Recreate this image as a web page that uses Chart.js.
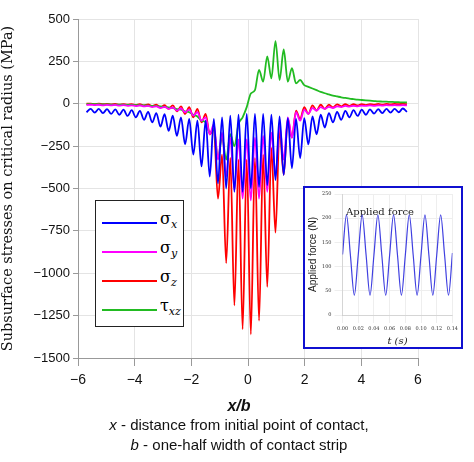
<!DOCTYPE html>
<html><head><meta charset="utf-8">
<script src="https://cdn.jsdelivr.net/npm/chart.js@4.4.0/dist/chart.umd.min.js"></script>
<style>
body{margin:0;background:#fff;width:474px;height:462px;overflow:hidden;position:relative;font-family:"Liberation Sans",Arial,sans-serif}
#main{position:absolute;left:0;top:0}
#legend{position:absolute;left:95px;top:200px;width:87px;height:125px;border:1.5px solid #222;background:#fff}
.li{position:absolute;left:6px;width:55px;height:0;border-top:2.5px solid}
.lt{position:absolute;left:64px;font-family:"DejaVu Serif",serif;font-size:16px}
.lt sub{font-size:11px;font-style:italic}
#inset{position:absolute;left:303px;top:186px;width:156px;height:159px;border:2px solid #1010d0;background:#fff}
.xt{position:absolute;width:474px;text-align:center;font-size:15px;color:#111}
</style></head><body>
<canvas id="main" width="474" height="462"></canvas>
<div id="legend">
 <div class="li" style="top:21px;border-color:#0000ff"></div><div class="lt" style="top:8px">σ<sub>x</sub></div>
 <div class="li" style="top:50px;border-color:#ff00ff"></div><div class="lt" style="top:37px">σ<sub>y</sub></div>
 <div class="li" style="top:79px;border-color:#ff0000"></div><div class="lt" style="top:66px">σ<sub>z</sub></div>
 <div class="li" style="top:108px;border-color:#22bb22"></div><div class="lt" style="top:95px">τ<sub>xz</sub></div>
</div>
<div id="inset"><canvas id="ins" width="156" height="159"></canvas></div>
<div class="xt" style="top:397px;left:2px;font-weight:bold;font-style:italic;font-size:16px">x/b</div>
<div class="xt" style="top:416px;left:2px"><i>x</i> - distance from initial point of contact,</div>
<div class="xt" style="top:436px;left:2px"><i>b</i> - one-half width of contact strip</div>
<script>
const xPos = [-5.70,-5.555,-5.41,-5.265,-5.12,-4.975,-4.83,-4.685,-4.54,-4.395,-4.25,-4.105,-3.96,-3.815,-3.67,-3.525,-3.38,-3.235,-3.09,-2.945,-2.80,-2.655,-2.51,-2.365,-2.22,-2.075,-1.93,-1.785,-1.64,-1.495,-1.35,-1.205,-1.06,-0.915,-0.77,-0.625,-0.48,-0.335,-0.19,-0.045,0.10,0.245,0.39,0.535,0.68,0.825,0.97,1.115,1.26,1.405,1.55,1.695,1.84,1.985,2.13,2.275,2.42,2.565,2.71,2.855,3.00,3.145,3.29,3.435,3.58,3.725,3.87,4.015,4.16,4.305,4.45,4.595,4.74,4.885,5.03,5.175,5.32,5.465,5.61];
const sigmaX = [-50,-30,-52,-30,-55,-32,-60,-33,-65,-35,-72,-38,-80,-42,-95,-48,-110,-55,-135,-62,-160,-70,-190,-80,-240,-90,-300,-100,-370,-100,-430,-90,-470,-80,-500,-70,-520,-65,-520,-60,-500,-60,-490,-60,-480,-65,-450,-75,-420,-85,-380,-90,-320,-85,-240,-75,-180,-65,-140,-55,-110,-48,-95,-42,-80,-38,-72,-35,-65,-33,-58,-32,-55,-30,-52,-30,-50,-28,-48];
const sigmaY = [-8,-6,-8,-6,-9,-7,-10,-7,-11,-8,-12,-9,-14,-10,-16,-12,-20,-15,-25,-18,-30,-22,-40,-28,-50,-35,-70,-50,-100,-80,-180,-120,-330,-170,-430,-200,-510,-210,-560,-210,-570,-200,-560,-190,-520,-170,-430,-130,-330,-80,-200,-50,-100,-35,-60,-25,-40,-20,-30,-18,-25,-15,-20,-13,-17,-12,-15,-11,-13,-10,-12,-9,-11,-8,-10,-8,-10,-8,-10];
const sigmaZ = [0,0,-2,0,-3,-1,-4,-1,-5,-2,-6,-2,-8,-3,-10,-4,-14,-5,-20,-8,-30,-10,-45,-15,-60,-20,-80,-30,-110,-60,-180,-150,-560,-300,-940,-320,-1190,-330,-1330,-330,-1360,-320,-1280,-300,-1080,-260,-760,-150,-420,-90,-200,-40,-90,-20,-60,-10,-40,-6,-30,-5,-22,-4,-15,-3,-12,-3,-10,-2,-8,-2,-6,-1,-5,-1,-4,-1,-3,0,-3];
const tauXZ = [-2,-2,-3,-3,-4,-4,-5,-5,-6,-6,-7,-7,-8,-9,-10,-11,-13,-14,-16,-18,-22,-25,-32,-35,-45,-50,-65,-75,-100,-110,-170,-150,-320,-200,-330,-180,-250,-120,-80,-20,60,80,200,130,280,150,370,140,320,130,210,120,140,110,100,90,80,70,62,55,48,43,38,34,30,27,24,22,20,18,16,14,13,12,11,10,9,8,8];
const yTicks = [500,250,0,-250,-500,-750,-1000,-1250,-1500];
const xTicks = [-6,-4,-2,0,2,4,6];
const forceT = [0,0.005,0.01,0.015,0.02,0.025,0.03,0.035,0.04,0.045,0.05,0.055,0.06,0.065,0.07,0.075,0.08,0.085,0.09,0.095,0.10,0.105,0.11,0.115,0.12,0.125,0.13,0.135,0.14];
const forceN = [125,207,124,41,124,207,124,41,124,207,124,41,124,207,124,41,124,207,124,41,124,207,124,41,124,207,124,41,128];

const pts = a => a.map((v,i)=>({x:xPos[i],y:v}));
const ds = (d,c) => ({data:pts(d),borderColor:c,borderWidth:1.8,pointRadius:0,fill:false,cubicInterpolationMode:'monotone'});
new Chart(document.getElementById('main'),{
 type:'line',
 data:{datasets:[ds(sigmaX,'#0000ff'),ds(sigmaY,'#ff00ff'),ds(tauXZ,'#22bb22'),ds(sigmaZ,'#ff0000')]},
 options:{responsive:false,animation:false,
  layout:{padding:{top:19,right:56}},
  plugins:{legend:{display:false},tooltip:{enabled:false}},
  scales:{
   x:{type:'linear',min:-6,max:6,afterBuildTicks:s=>{s.ticks=xTicks.map(v=>({value:v}));},
      afterFit:s=>{s.height=104;},
      grid:{color:'#e4e4e4',tickLength:8,tickColor:'#999'},border:{color:'#999'},
      ticks:{color:'#111',font:{size:14,family:'Liberation Sans'},padding:6,callback:v=>String(v).replace('-','\u2212')}},
   y:{min:-1500,max:500,afterBuildTicks:s=>{s.ticks=yTicks.map(v=>({value:v}));},
      afterFit:s=>{s.width=78;},
      grid:{color:'#e4e4e4',tickLength:5,tickColor:'#999'},border:{color:'#999'},
      title:{display:true,text:'Subsurface stresses on critical radius (MPa)',color:'#111',font:{size:14.5,family:'DejaVu Serif'},padding:{top:0,bottom:2}},
      ticks:{color:'#111',font:{size:13,family:'Liberation Sans'},padding:3,callback:v=>String(v).replace('-','\u2212')}}
  }}
});
new Chart(document.getElementById('ins'),{
 type:'line',
 data:{datasets:[{data:forceT.map((t,i)=>({x:t,y:forceN[i]})),borderColor:'#4040e0',borderWidth:1.2,pointRadius:0,cubicInterpolationMode:'monotone'}]},
 options:{responsive:false,animation:false,
  layout:{padding:{top:2,right:8,left:2}},
  plugins:{legend:{display:false},tooltip:{enabled:false},
   title:{display:true,text:'Applied force',color:'#222',font:{size:10,family:'DejaVu Serif',weight:'normal'},padding:{top:14,bottom:-24}}},
  scales:{
   x:{type:'linear',min:0,max:0.14,ticks:{stepSize:0.02,font:{size:5,family:'DejaVu Serif'},color:'#333',maxRotation:0,callback:v=>v.toFixed(2)},
      grid:{color:'#eee'},title:{display:true,text:'t (s)',font:{size:10,family:'DejaVu Serif',style:'italic'},color:'#222',padding:0}},
   y:{min:0,max:250,ticks:{stepSize:50,font:{size:5,family:'DejaVu Serif'},color:'#333'},
      grid:{color:'#eee'},title:{display:true,text:'Applied force (N)',font:{size:10,family:'Liberation Sans'},color:'#222',padding:0}}
  }}
});
</script></body></html>
